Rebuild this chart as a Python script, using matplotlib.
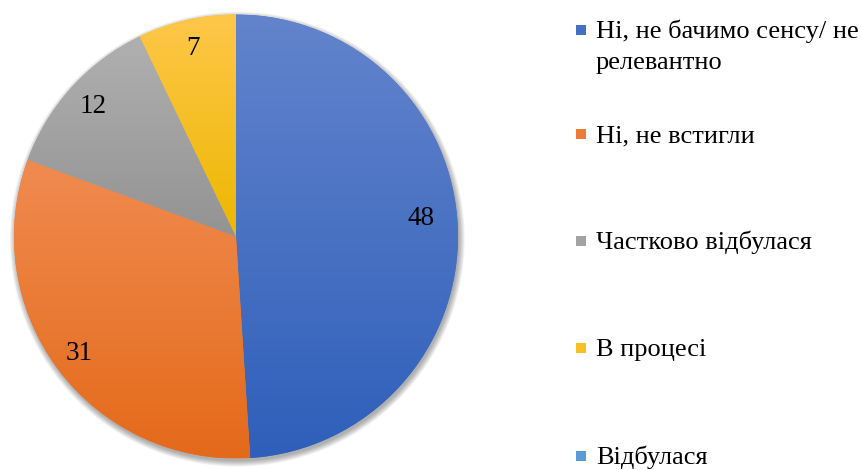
import matplotlib
matplotlib.use('Agg')
import matplotlib.pyplot as plt
import numpy as np
from matplotlib.colors import LinearSegmentedColormap
from matplotlib.patches import Circle, Rectangle

# ---- data ----
categories = ['Ні, не бачимо сенсу/ не\nрелевантно', 'Ні, не встигли',
              'Частково відбулася', 'В процесі', 'Відбулася']
values = [48, 31, 12, 7, 0]

# ---- styles ----
base_colors = ['#4472C4', '#ED7D31', '#A5A5A5', '#FFC000', '#5B9BD5']
top_colors = ['#6384CC', '#F08B50', '#B0B0B0', '#FEC74A', '#7DB0E0']
bottom_colors = ['#2F5FBA', '#E46A1A', '#939393', '#EDB700', '#3D86CC']
legend_colors = ['#4470C4', '#EC7B35', '#A3A3A3', '#F8C020', '#5A9AD6']
label_r = [0.835, 0.88, 0.87, 0.87]
label_dang = [3.6, 0, 0, 0]

plt.rcParams['font.family'] = 'serif'
plt.rcParams['font.serif'] = ['Liberation Serif']

W, H = 862, 470
fig = plt.figure(figsize=(W / 100, H / 100), dpi=100)
cx, cy, r = 236, 236.5, 222
ax = fig.add_axes([(cx - r) / W, (H - cy - r) / H, 2 * r / W, 2 * r / H])

# soft shadow
for k in range(8):
    ax.add_patch(Circle((0.006, -0.012), 1.0 + k * 0.0035, facecolor='black',
                        edgecolor='none', alpha=0.045, zorder=0, clip_on=False))

wedges, _ = ax.pie(values, startangle=90, counterclock=False, radius=1,
                   colors=base_colors, wedgeprops=dict(linewidth=0))

for i, w in enumerate(wedges):
    if values[i] <= 0:
        w.set_visible(False)
        continue
    t = np.linspace(np.radians(w.theta1), np.radians(w.theta2), 200)
    ys = np.concatenate([np.sin(t), [0]])
    y0, y1 = ys.min(), ys.max()
    cmap = LinearSegmentedColormap.from_list('g%d' % i, [top_colors[i], bottom_colors[i]])
    grad = np.linspace(0, 1, 256).reshape(-1, 1)
    im = ax.imshow(grad, cmap=cmap, extent=(-1, 1, y0, y1), origin='upper',
                   aspect='auto', zorder=2, interpolation='bicubic')
    im.set_clip_path(w)
    mid = np.radians((w.theta1 + w.theta2) / 2 + label_dang[i])
    ax.text(label_r[i] * np.cos(mid), label_r[i] * np.sin(mid), str(values[i]),
            ha='center', va='center', fontsize=19.5, color='#000000', zorder=5,
            family='Liberation Serif')

ax.set_xlim(-1, 1)
ax.set_ylim(-1, 1)
ax.axis('off')

# legend (manual)
baselines = [38, 142, 249, 356, 464]
for i, lab in enumerate(categories):
    yb = baselines[i]
    yc = yb - 8
    fig.add_artist(Rectangle((576 / W, (H - yc - 5) / H), 10 / W, 10 / H,
                             transform=fig.transFigure, facecolor=legend_colors[i],
                             edgecolor='none'))
    for j, line in enumerate(lab.split('\n')):
        fig.text(596 / W, 1 - (yb + j * 30.5) / H, line, ha='left',
                 va='baseline', fontsize=19, color='#000000',
                 family='Liberation Serif')

fig.savefig('out.png', dpi=100)
